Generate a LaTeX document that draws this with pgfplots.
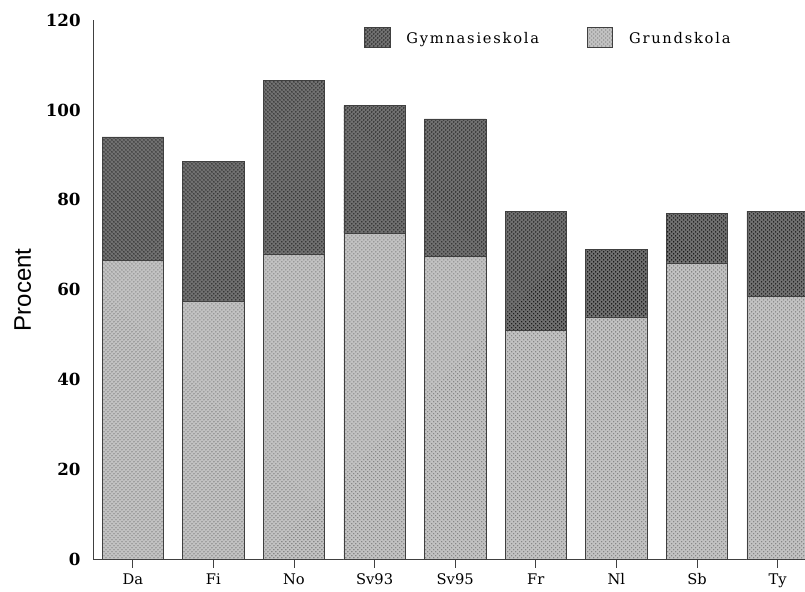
\documentclass[border=0pt]{standalone}
\usepackage{pgfplots}
\pgfplotsset{compat=1.18}
\usetikzlibrary{patterns}
\usepackage{fontspec}
\setmainfont{DejaVu Serif}
\newfontfamily\labelfont{Liberation Sans}
\newfontfamily\legfont[LetterSpace=12]{DejaVu Serif}
\definecolor{gymn}{gray}{0.44}
\definecolor{grund}{gray}{0.76}
\definecolor{outl}{gray}{0.25}

\begin{document}
\begin{tikzpicture}
\useasboundingbox (-70pt,-24pt) rectangle (534pt,420pt);
\begin{axis}[
  scale only axis, width=534pt, height=405pt,
  ybar stacked, bar width=0.763,
  xmin=-0.49, xmax=8.34, ymin=0, ymax=120,
  xtick={0,...,8}, xticklabels={Da,Fi,No,Sv93,Sv95,Fr,Nl,Sb,Ty},
  ytick={0,20,...,120},
  /pgf/number format/assume math mode=true,
  axis x line=bottom, axis y line=left,
  axis line style={-, outl, line width=0.8pt},
  x tick style={outl, line width=0.6pt},
  xtick align=outside, major tick length=6pt,
  y tick style={draw=none},
  x tick label style={font=\fontsize{11}{11}\selectfont, yshift=-1pt},
  y tick label style={font=\bfseries\fontsize{12.5}{12.5}\selectfont, xshift=-3pt},
  ylabel={\labelfont\fontsize{18}{18}\selectfont Procent},
  ylabel style={at={(axis description cs:-0.099,0.5)}, anchor=center},
  legend columns=2, reverse legend,
  legend style={draw=none, fill=none, at={(0.64,0.967)}, anchor=center,
    font=\legfont\fontsize{11}{11}\selectfont,
    /tikz/every even column/.append style={column sep=34pt}},
  legend image code/.code={\draw[#1] (0pt,-7pt) rectangle (19pt,8pt);},
  legend cell align=left,
]
\addplot[fill=grund, draw=outl, line width=0.5pt,
  postaction={pattern=crosshatch dots, pattern color=black!55}]
  coordinates {(0,66.5) (1,57.5) (2,68) (3,72.5) (4,67.5) (5,51) (6,54) (7,66) (8,58.5)};
\addplot[fill=gymn, draw=outl, line width=0.5pt,
  postaction={pattern=crosshatch dots, pattern color=black}]
  coordinates {(0,27.5) (1,31) (2,38.5) (3,28.5) (4,30.5) (5,26.5) (6,15) (7,11) (8,19)};
\legend{\hspace{10pt}Grundskola,\hspace{10pt}Gymnasieskola}
\end{axis}
\end{tikzpicture}
\end{document}
